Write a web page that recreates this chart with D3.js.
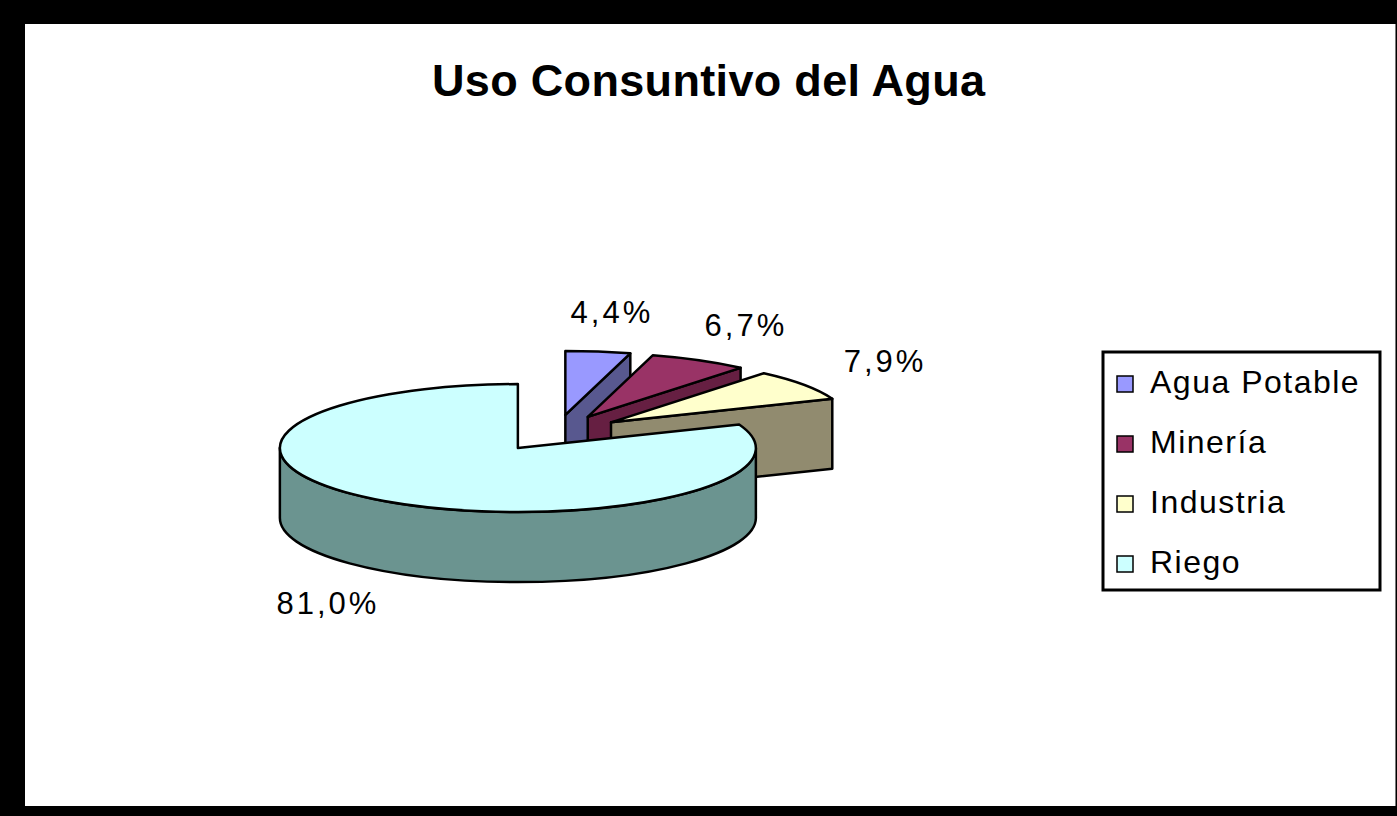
<!DOCTYPE html>
<meta charset="utf-8">
<head>
<style>
body { margin: 0; background: #fff; }
text { font-family: "Liberation Sans", Arial, sans-serif; fill: #000; }
.face { stroke: #000; stroke-width: 2.5; stroke-linejoin: round; }
</style>
</head>
<body>
<svg width="1397" height="816"></svg>
<script src="https://d3js.org/d3.v7.min.js"></script>
<script>

var categories = ["Agua Potable", "Minería", "Industria", "Riego"];
var values = [4.4, 6.7, 7.9, 81.0];
var labels = ["4,4%", "6,7%", "7,9%", "81,0%"];
var topColors = ["#9999ff", "#993366", "#ffffcc", "#ccffff"];
var sideColors = ["#58588f", "#661f42", "#918b6f", "#6b9490"];

var svg = d3.select("svg"),
    width = +svg.attr("width"),
    height = +svg.attr("height");

// black frame round the chart area
svg.append("rect").attr("width", width).attr("height", height).attr("fill", "#000");
svg.append("rect").attr("x", 25).attr("y", 24).attr("width", 1370).attr("height", 782).attr("fill", "#fff");
svg.append("line").attr("x1", 1395.5).attr("x2", 1395.5).attr("y1", 24).attr("y2", 806)
    .attr("stroke", "#777").attr("stroke-width", 1);

svg.append("text")
    .attr("x", 432).attr("y", 96)
    .attr("textLength", 553).attr("lengthAdjust", "spacing")
    .style("font-size", "45px").style("font-weight", "bold")
    .text("Uso Consuntivo del Agua");

// 3d pie geometry
var cx0 = 556, cy0 = 433, rx = 238, ry = 64, depth = 70, explode = 0.285;

var pie = d3.pie().sort(null).value(function(d) { return d; });
var arcs = pie(values).map(function(a, i) {
  var m = (a.startAngle + a.endAngle) / 2;
  a.i = i;
  a.mid = m;
  a.cx = cx0 + rx * explode * Math.sin(m);
  a.cy = cy0 - ry * explode * Math.cos(m);
  return a;
});

function pt(a, ang, dz) {
  return [a.cx + rx * Math.sin(ang), a.cy - ry * Math.cos(ang) + (dz || 0)];
}

function topPath(a) {
  var p0 = pt(a, a.startAngle), p1 = pt(a, a.endAngle);
  var large = a.endAngle - a.startAngle > Math.PI ? 1 : 0;
  return "M" + a.cx + "," + a.cy + "L" + p0 + "A" + rx + "," + ry + " 0 " + large + " 1 " + p1 + "Z";
}

function wallPath(a) {
  var a1 = Math.max(a.startAngle, Math.PI / 2), a2 = Math.min(a.endAngle, 3 * Math.PI / 2);
  if (a1 >= a2) return null;
  return "M" + pt(a, a1) + "A" + rx + "," + ry + " 0 0 1 " + pt(a, a2) +
    "L" + pt(a, a2, depth) + "A" + rx + "," + ry + " 0 0 0 " + pt(a, a1, depth) + "Z";
}

function sidePath(a, ang) {
  var p = pt(a, ang);
  return "M" + a.cx + "," + a.cy + "L" + p + "L" + [p[0], p[1] + depth] +
    "L" + a.cx + "," + (a.cy + depth) + "Z";
}

var order = arcs.slice().sort(function(a, b) { return a.cy - b.cy; });
var gPie = svg.append("g");

order.forEach(function(a) {
  var g = gPie.append("g");
  // radial faces that face the viewer
  if (-Math.sin(a.startAngle) > 1e-6)
    g.append("path").attr("class", "face").attr("d", sidePath(a, a.startAngle)).attr("fill", sideColors[a.i]);
  if (Math.sin(a.endAngle) > 1e-6)
    g.append("path").attr("class", "face").attr("d", sidePath(a, a.endAngle)).attr("fill", sideColors[a.i]);
  var w = wallPath(a);
  if (w) g.append("path").attr("class", "face").attr("d", w).attr("fill", sideColors[a.i]);
  g.append("path").attr("class", "face").attr("d", topPath(a)).attr("fill", topColors[a.i]);
});

// data labels
var kx = 1.42, ky = 1.62;
svg.append("g").selectAll("text")
  .data(arcs)
  .enter().append("text")
    .attr("x", function(d) { return d.cx + rx * kx * Math.sin(d.mid); })
    .attr("y", function(d) {
      return d.cy - ry * ky * Math.cos(d.mid) + (Math.cos(d.mid) < 0 ? depth : 0);
    })
    .attr("text-anchor", "middle")
    .attr("dominant-baseline", "central")
    .style("font-size", "31px")
    .style("letter-spacing", "3px")
    .text(function(d, i) { return labels[i]; });

// legend
var legend = svg.append("g");
legend.append("rect")
    .attr("x", 1103).attr("y", 352).attr("width", 277).attr("height", 238)
    .attr("fill", "#fff").attr("stroke", "#000").attr("stroke-width", 3);

var item = legend.selectAll(".item")
  .data(categories)
  .enter().append("g")
    .attr("class", "item")
    .attr("transform", function(d, i) { return "translate(1117," + (393 + i * 60) + ")"; });

item.append("rect")
    .attr("x", 0).attr("y", -17).attr("width", 16).attr("height", 16)
    .attr("fill", function(d, i) { return topColors[i]; })
    .attr("stroke", "#000").attr("stroke-width", 1.5);

item.append("text")
    .attr("x", 33).attr("y", 0)
    .style("font-size", "32px")
    .style("letter-spacing", "1.5px")
    .text(function(d) { return d; });

</script>
</body>
</html>
